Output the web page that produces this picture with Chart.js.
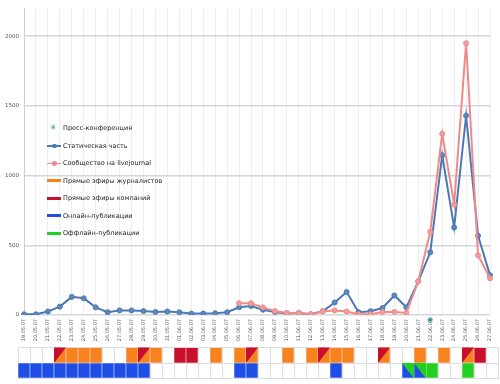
<!DOCTYPE html>
<html>
<head>
<meta charset="utf-8">
<script src="https://cdn.jsdelivr.net/npm/chart.js@4/dist/chart.umd.min.js"></script>
<style>
  body { margin: 0; background: #fff; width: 500px; height: 384px; position: relative; overflow: hidden; font-family: "DejaVu Sans", sans-serif; }
  #top { position: absolute; left: 0; top: 0; }
  #bottom { position: absolute; left: 0; top: 344px; }
  #legend { position: absolute; left: 47px; top: 119.5px; font-size: 6.5px; color: #222; }
  .item { height: 17.5px; display: flex; align-items: center; }
  .mk { width: 14px; height: 8px; margin-right: 2px; position: relative; }
  .mk .ln { position: absolute; left: 0; right: 0; top: 3.5px; height: 1.5px; }
  .mk .dot { position: absolute; left: 5px; top: 2px; width: 4.5px; height: 4.5px; border-radius: 50%; }
  .mk .bar { position: absolute; left: 0; right: 0; top: 2.5px; height: 3px; }
  .mk .star { position: absolute; left: 3px; top: -1px; font-size: 8px; line-height: 10px; }
</style>
</head>
<body>
<canvas id="top" width="500" height="346"></canvas>
<canvas id="bottom" width="500" height="40"></canvas>
<div id="legend"></div>
<script>
// даты по оси X
const dates = [
  '19.05.07', '20.05.07', '21.05.07', '22.05.07', '23.05.07', '24.05.07', '25.05.07', '26.05.07',
  '27.05.07', '28.05.07', '29.05.07', '30.05.07', '31.05.07', '01.06.07', '02.06.07', '03.06.07',
  '04.06.07', '05.06.07', '06.06.07', '07.06.07', '08.06.07', '09.06.07', '10.06.07', '11.06.07',
  '12.06.07', '13.06.07', '14.06.07', '15.06.07', '16.06.07', '17.06.07', '18.06.07', '19.06.07',
  '20.06.07', '21.06.07', '22.06.07', '23.06.07', '24.06.07', '25.06.07', '26.06.07', '27.06.07'
];

// посещаемость
const staticPart = [5, 5, 25, 60, 130, 120, 55, 20, 33, 33, 28, 22, 25, 20, 10, 10,
  13, 20, 55, 65, 38, 22, 10, 15, 5, 27, 90, 165, 20, 27, 50, 140,
  55, 242, 450, 1146, 628, 1430, 569, 286];
const community = [null, null, null, null, null, null, null, null, null, null, null, null, null, null, null, null,
  null, null, 85, 85, 55, 28, 15, 15, 5, 27, 33, 25, 5, 5, 22, 22,
  15, 242, 597, 1300, 793, 1950, 428, 263];
// пресс-конференция (отметка чуть ниже нуля)
const pressConf = dates.map((d, i) => d === '22.06.07' ? -35 : null);

const yTicks = [0, 500, 1000, 1500, 2000];

// события по дням (1 - было)
const journalists = [0, 0, 0, 1, 1, 1, 1, 0, 0, 1, 1, 1, 0, 0, 0, 0,
  1, 0, 1, 1, 0, 0, 1, 0, 1, 1, 1, 1, 0, 0, 1, 0,
  0, 1, 0, 1, 0, 1, 0, 0];
const companies = [0, 0, 0, 1, 0, 0, 0, 0, 0, 0, 1, 0, 0, 1, 1, 0,
  0, 0, 0, 1, 0, 0, 0, 0, 0, 1, 0, 0, 0, 0, 1, 0,
  0, 0, 0, 0, 0, 1, 1, 0];
const online = [1, 1, 1, 1, 1, 1, 1, 1, 1, 1, 1, 0, 0, 0, 0, 0,
  0, 0, 1, 1, 0, 0, 0, 0, 0, 0, 1, 0, 0, 0, 0, 0,
  1, 1, 0, 0, 0, 0, 0, 0];
const offline = [0, 0, 0, 0, 0, 0, 0, 0, 0, 0, 0, 0, 0, 0, 0, 0,
  0, 0, 0, 0, 0, 0, 0, 0, 0, 0, 0, 0, 0, 0, 0, 0,
  1, 1, 1, 0, 0, 1, 0, 0];

const COL_BLUE = '#4a79b4';
const COL_PINK = '#f08a8a';
const COL_PRESS = '#1b9096';
const COL_ORANGE = '#f7821e';
const COL_RED = '#c8102e';
const COL_ONLINE = '#1f4ee6';
const COL_OFFLINE = '#22d022';

// Легенда
const legendItems = [
  { text: 'Пресс-конференция', type: 'star', color: COL_PRESS },
  { text: 'Статическая часть', type: 'line', color: COL_BLUE },
  { text: 'Сообщество на livejournal', type: 'line', color: COL_PINK },
  { text: 'Прямые эфиры журналистов', type: 'bar', color: COL_ORANGE },
  { text: 'Прямые эфиры компаний', type: 'bar', color: COL_RED },
  { text: 'Онлайн-публикации', type: 'bar', color: COL_ONLINE },
  { text: 'Оффлайн-публикации', type: 'bar', color: COL_OFFLINE }
];
const legend = document.getElementById('legend');
legendItems.forEach(it => {
  let mk;
  if (it.type === 'star') mk = `<span class="star" style="color:${it.color}">✳</span>`;
  else if (it.type === 'line') mk = `<div class="ln" style="background:${it.color}"></div><div class="dot" style="background:${it.color}"></div>`;
  else mk = `<div class="bar" style="background:${it.color}"></div>`;
  legend.insertAdjacentHTML('beforeend', `<div class="item"><div class="mk">${mk}</div><span>${it.text}</span></div>`);
});

// Основной график
new Chart(document.getElementById('top'), {
  type: 'line',
  data: {
    labels: dates,
    datasets: [
      {
        label: 'Пресс-конференция',
        data: pressConf,
        showLine: false,
        pointStyle: 'star',
        pointRadius: 2.8,
        borderColor: COL_PRESS,
        backgroundColor: COL_PRESS,
        borderWidth: 1,
        clip: false,
        order: 0
      },
      {
        label: 'Сообщество на livejournal',
        data: community,
        borderColor: COL_PINK,
        backgroundColor: '#f29c9c',
        borderWidth: 2,
        pointRadius: 2.5,
        pointBorderWidth: 1,
        order: 1
      },
      {
        label: 'Статическая часть',
        data: staticPart,
        borderColor: COL_BLUE,
        backgroundColor: '#5e87bb',
        borderWidth: 2,
        pointRadius: 2.5,
        pointBorderWidth: 1,
        order: 2
      }
    ]
  },
  options: {
    responsive: false,
    animation: false,
    layout: { padding: { left: 0, right: 8, top: 5, bottom: 0 } },
    plugins: { legend: { display: false }, tooltip: { enabled: false } },
    scales: {
      x: {
        grid: { color: '#efefef', drawTicks: false },
        border: { display: false },
        ticks: { autoSkip: false, maxRotation: 90, minRotation: 90, font: { size: 5, family: 'DejaVu Sans' }, color: '#555', padding: 4 },
        afterFit(s) { s.height = 31; }
      },
      y: {
        min: 0,
        max: 2200,
        afterBuildTicks(s) { s.ticks = yTicks.map(v => ({ value: v })); },
        ticks: { font: { size: 5.5, family: 'DejaVu Sans' }, color: '#555', padding: 5, callback: v => String(v) },
        grid: { color: '#d6d6d6', lineWidth: 1.5, drawTicks: false },
        border: { color: '#cfcfcf', width: 1 },
        afterFit(s) { s.width = 24; }
      }
    }
  }
});

// Ячейки событий: ряд 1 сверху (1..2), ряд 2 снизу (0..1)
const cells = (flags, row) => flags.map(f => f ? [row, row + 1] : null);

const splitCells = {
  id: 'splitCells',
  afterDatasetsDraw(chart) {
    const { ctx, scales: { x, y } } = chart;
    const half = (x.getPixelForValue(1) - x.getPixelForValue(0)) / 2;
    ctx.save();
    dates.forEach((d, i) => {
      const l = x.getPixelForValue(i) - half, r = x.getPixelForValue(i) + half;
      if (journalists[i] && companies[i]) {
        const t = y.getPixelForValue(2), b = y.getPixelForValue(1);
        ctx.fillStyle = COL_RED;
        ctx.beginPath(); ctx.moveTo(l, t); ctx.lineTo(r, t); ctx.lineTo(l, b); ctx.closePath(); ctx.fill();
      }
      if (online[i] && offline[i]) {
        const t = y.getPixelForValue(1), b = y.getPixelForValue(0);
        ctx.fillStyle = COL_OFFLINE;
        ctx.beginPath(); ctx.moveTo(l, t); ctx.lineTo(r, t); ctx.lineTo(r, b); ctx.closePath(); ctx.fill();
      }
    });
    ctx.restore();
  }
};

new Chart(document.getElementById('bottom'), {
  type: 'bar',
  data: {
    labels: dates,
    datasets: [
      { label: 'Прямые эфиры журналистов', data: cells(journalists, 1), backgroundColor: COL_ORANGE },
      { label: 'Прямые эфиры компаний', data: cells(companies.map((c, i) => c && !journalists[i]), 1), backgroundColor: COL_RED },
      { label: 'Онлайн-публикации', data: cells(online, 0), backgroundColor: COL_ONLINE },
      { label: 'Оффлайн-публикации', data: cells(offline.map((o, i) => o && !online[i]), 0), backgroundColor: COL_OFFLINE }
    ]
  },
  options: {
    responsive: false,
    animation: false,
    layout: { padding: { left: 18, right: 2, top: 3.5, bottom: 5.5 } },
    plugins: { legend: { display: false }, tooltip: { enabled: false } },
    datasets: { bar: { barPercentage: 1, categoryPercentage: 1, grouped: false, borderWidth: 0.6, borderColor: 'rgba(255,255,255,0.55)', borderSkipped: false } },
    scales: {
      x: {
        grid: { color: '#dddddd', drawTicks: false, offset: true },
        border: { color: '#dddddd' },
        ticks: { display: false },
        afterFit(s) { s.height = 0; }
      },
      y: {
        min: 0,
        max: 2,
        ticks: { display: false, stepSize: 1 },
        grid: { color: '#dddddd', drawTicks: false },
        border: { color: '#dddddd' },
        afterFit(s) { s.width = 0; }
      }
    }
  },
  plugins: [splitCells]
});
</script>
</body>
</html>
